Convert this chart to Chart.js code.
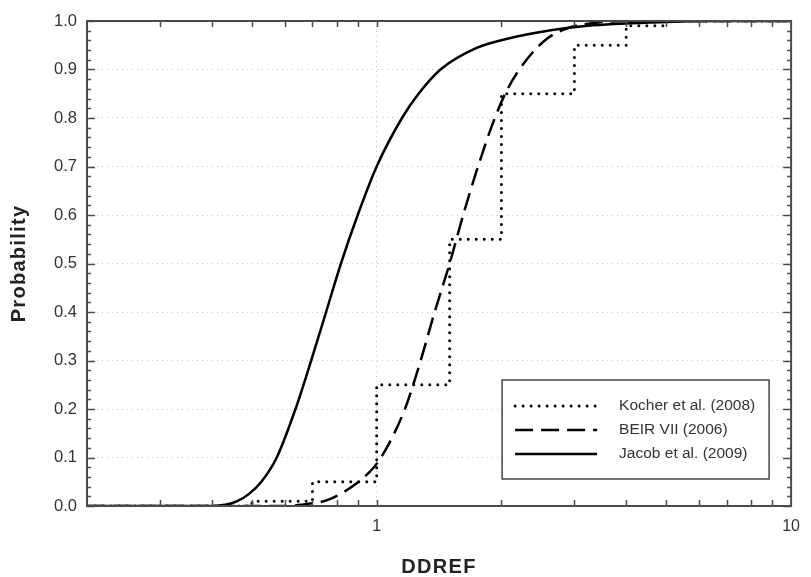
<!DOCTYPE html>
<html>
<head>
<meta charset="utf-8">
<script src="https://cdn.jsdelivr.net/npm/chart.js@4.4.1/dist/chart.umd.min.js"></script>
<style>
  html, body { margin: 0; padding: 0; background: #fff; }
  canvas { display: block; }
</style>
</head>
<body>
<canvas id="ddrefChart" width="811" height="577"></canvas>
<script>
// cumulative probability of DDREF for the three assessments
const kocherX = [0.2, 0.5, 0.7, 1, 1.5, 2, 3, 4, 5, 10];
const kocherY = [0, 0.01, 0.05, 0.25, 0.55, 0.85, 0.95, 0.99, 1.0, 1.0];

const beirX = [0.2, 0.6, 0.69, 0.765, 0.905, 0.985, 1.025, 1.17, 1.277, 1.38, 1.5, 1.617, 1.756, 1.928, 2.07, 2.30, 2.58, 2.91, 3.35, 4.2, 10];
const beirY = [0, 0, 0.005, 0.013, 0.05, 0.08, 0.10, 0.20, 0.30, 0.40, 0.50, 0.60, 0.70, 0.80, 0.86, 0.92, 0.964, 0.986, 0.996, 1.0, 1.0];

const jacobX = [0.2, 0.402, 0.434, 0.461, 0.492, 0.527, 0.574, 0.637, 0.695, 0.755, 0.82, 0.90, 1.0, 1.151, 1.262, 1.426, 1.737, 2.08, 2.63, 3.23, 4.66, 6.8, 10];
const jacobY = [0, 0, 0.003, 0.01, 0.025, 0.05, 0.10, 0.20, 0.30, 0.40, 0.50, 0.60, 0.70, 0.80, 0.85, 0.90, 0.944, 0.964, 0.981, 0.990, 0.997, 1.0, 1.0];

const seriesNames = ['Kocher et al. (2008)', 'BEIR VII (2006)', 'Jacob et al. (2009)'];

const xLabels = [1, 10];
const xTickMarks = [0.3, 0.4, 0.5, 0.6, 0.7, 0.8, 0.9, 1, 2, 3, 4, 5, 6, 7, 8, 9];
const yLabels = [0, 0.1, 0.2, 0.3, 0.4, 0.5, 0.6, 0.7, 0.8, 0.9, 1.0];

const FONT = '"Liberation Sans", Arial, Helvetica, sans-serif';

function toPoints(xs, ys){
    return xs.map((v, i) => ({x: v, y: ys[i]}));
}

const lineStyles = [
    {borderWidth: 3, borderDash: [0, 8], borderCapStyle: 'round'},
    {borderWidth: 2.5, borderDash: [18, 8], borderCapStyle: 'butt'},
    {borderWidth: 2.5, borderDash: [], borderCapStyle: 'butt'}
];

// frame, inward ticks, legend box and axis titles
const framePlugin = {
    id: 'frame',
    afterDatasetsDraw(chart){
        const {ctx, chartArea: a, scales: {x, y}} = chart;
        ctx.save();
        ctx.strokeStyle = '#4a4a4a';
        ctx.lineWidth = 1.5;
        ctx.beginPath();
        for(let i = 0; i <= 50; i++){
            const py = Math.round(y.getPixelForValue(i / 50)) + 0.5;
            const len = i % 5 === 0 ? 8 : 4;
            ctx.moveTo(a.left, py); ctx.lineTo(a.left + len, py);
            ctx.moveTo(a.right, py); ctx.lineTo(a.right - len, py);
        }
        xTickMarks.forEach(v => {
            const px = Math.round(x.getPixelForValue(v)) + 0.5;
            ctx.moveTo(px, a.bottom); ctx.lineTo(px, a.bottom - 6);
            ctx.moveTo(px, a.top); ctx.lineTo(px, a.top + 6);
        });
        ctx.stroke();
        ctx.lineWidth = 2;
        ctx.strokeRect(a.left, a.top, a.right - a.left, a.bottom - a.top);

        // legend
        const box = {left: a.right - 289, top: a.bottom - 126, width: 267, height: 99};
        ctx.fillStyle = '#fff';
        ctx.fillRect(box.left, box.top, box.width, box.height);
        ctx.lineWidth = 1.5;
        ctx.strokeStyle = '#444';
        ctx.strokeRect(box.left, box.top, box.width, box.height);
        ctx.font = '15.5px ' + FONT;
        ctx.textBaseline = 'middle';
        ctx.textAlign = 'left';
        seriesNames.forEach((name, i) => {
            const ly = box.top + 26 + i * 24;
            const st = lineStyles[i];
            ctx.strokeStyle = '#000';
            ctx.lineWidth = st.borderWidth;
            ctx.lineCap = st.borderCapStyle;
            ctx.setLineDash(st.borderDash);
            ctx.beginPath();
            ctx.moveTo(box.left + 13, ly);
            ctx.lineTo(box.left + 95, ly);
            ctx.stroke();
            ctx.setLineDash([]);
            ctx.fillStyle = '#333';
            ctx.fillText(name, box.left + 117, ly);
        });
        ctx.restore();
    },
    afterDraw(chart){
        const {ctx, chartArea: a} = chart;
        ctx.save();
        ctx.fillStyle = '#222';
        ctx.font = 'bold 20px ' + FONT;
        ctx.letterSpacing = '1.3px';
        ctx.textAlign = 'center';
        ctx.textBaseline = 'middle';
        ctx.fillText('DDREF', (a.left + a.right) / 2, 567);
        ctx.translate(19, (a.top + a.bottom) / 2);
        ctx.rotate(-Math.PI / 2);
        ctx.fillText('Probability', 0, 0);
        ctx.restore();
    }
};

const ctx = document.getElementById('ddrefChart').getContext('2d');
const chart = new Chart(ctx, {
    type: 'line',
    data: {
        datasets: [
            {label: seriesNames[0], data: toPoints(kocherX, kocherY), stepped: 'before', ...lineStyles[0]},
            {label: seriesNames[1], data: toPoints(beirX, beirY), cubicInterpolationMode: 'monotone', ...lineStyles[1]},
            {label: seriesNames[2], data: toPoints(jacobX, jacobY), cubicInterpolationMode: 'monotone', ...lineStyles[2]}
        ].map(d => Object.assign(d, {borderColor: '#000', pointRadius: 0, fill: false}))
    },
    options: {
        responsive: false,
        animation: false,
        devicePixelRatio: 1,
        layout: {padding: {left: 0, right: 12, top: 21, bottom: 0}},
        plugins: {legend: {display: false}, tooltip: {enabled: false}},
        scales: {
            x: {
                type: 'logarithmic',
                min: 0.2,
                max: 10,
                afterBuildTicks: s => { s.ticks = xLabels.map(v => ({value: v})); },
                afterFit: s => { s.height = 71; },
                ticks: {
                    callback: v => String(v),
                    color: '#333',
                    font: {family: FONT, size: 16},
                    padding: 11,
                    maxRotation: 0
                },
                grid: {
                    drawTicks: false,
                    color: c => c.tick && c.tick.value === 1 ? '#c4c4c4' : 'rgba(0,0,0,0)',
                    lineWidth: 1
                },
                border: {display: false, dash: [1, 4]}
            },
            y: {
                type: 'linear',
                min: 0,
                max: 1,
                afterBuildTicks: s => { s.ticks = yLabels.map(v => ({value: v})); },
                afterFit: s => { s.width = 87; },
                ticks: {
                    callback: v => Number(v).toFixed(1),
                    color: '#333',
                    font: {family: FONT, size: 16.5},
                    padding: 10
                },
                grid: {
                    drawTicks: false,
                    color: c => c.tick && c.tick.value > 0.01 && c.tick.value < 0.99 ? '#c4c4c4' : 'rgba(0,0,0,0)',
                    lineWidth: 1
                },
                border: {display: false, dash: [1, 4]}
            }
        }
    },
    plugins: [framePlugin]
});
</script>
</body>
</html>
